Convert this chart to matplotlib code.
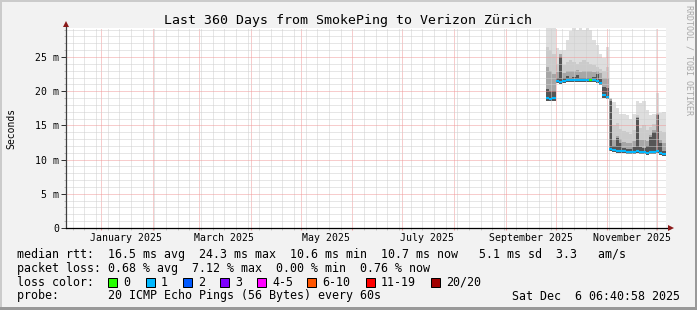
import numpy as np
import pandas as pd
import matplotlib
matplotlib.use('Agg')
from matplotlib import pyplot as plt
from matplotlib import dates as mdates
from matplotlib.patches import Rectangle
from matplotlib.ticker import MultipleLocator

W, H = 697, 310
MONO = 'DejaVu Sans Mono'

graph_start = pd.Timestamp('2024-12-11 00:00')
graph_end = pd.Timestamp('2025-12-06 06:40')

# 2-day bins, 25 Sep 2025 .. 6 Dec 2025 (values in ms)
bin_start = pd.date_range('2025-09-25', periods=36, freq='2D')

median_ms = [19.0, 18.9, 19.0, 21.5, 21.4, 21.5, 21.6, 21.6, 21.7, 21.7, 21.7, 21.7,
             21.7, 21.7, 21.6, 21.5, 21.2, 19.4, 19.2, 11.5, 11.4, 11.3, 11.2, 11.2,
             11.1, 11.1, 11.1, 11.2, 11.1, 11.1, 11.0, 11.1, 11.1, 11.2, 11.0, 10.8]
loss_class = [1, 1, 1, 1, 1, 1, 1, 1, 1, 1, 1, 1,
              1, 0, 1, 1, 1, 1, 1, 1, 1, 1, 1, 1,
              1, 1, 1, 1, 1, 1, 1, 1, 1, 1, 1, 1]
smoke_lo = [18.5, 18.5, 18.6, 21.2, 21.1, 21.2, 21.3, 21.3, 21.4, 21.4, 21.4, 21.4,
            21.4, 21.4, 21.3, 21.2, 20.9, 19.0, 18.9, 11.2, 11.1, 11.0, 10.9, 10.9,
            10.8, 10.8, 10.8, 10.9, 10.8, 10.8, 10.7, 10.8, 10.8, 10.9, 10.7, 10.5]
smoke_core = [20.3, 20.0, 20.0, 22.0, 25.0, 21.9, 22.2, 22.0, 22.1, 22.4, 22.0, 22.0,
              22.0, 22.0, 22.1, 22.5, 21.8, 20.6, 20.4, 18.5, 12.0, 13.2, 12.5, 11.7,
              11.6, 11.6, 11.8, 16.1, 11.8, 11.7, 12.0, 13.3, 14.0, 16.5, 12.4, 11.3]
smoke_dark = [23.5, 23.0, 22.5, 22.8, 25.5, 22.7, 23.0, 22.9, 23.0, 23.1, 22.8, 22.9,
              23.0, 22.9, 22.8, 22.9, 22.6, 22.0, 22.0, 18.8, 12.8, 13.5, 13.0, 12.6,
              12.5, 12.4, 12.7, 16.3, 12.8, 12.9, 12.7, 13.6, 14.3, 16.7, 12.9, 12.4]
smoke_mid = [26.5, 26.0, 25.5, 24.0, 25.5, 23.8, 24.2, 24.5, 24.3, 24.0, 24.2, 24.5,
             24.3, 24.0, 23.8, 23.6, 23.2, 23.0, 23.5, 19.0, 15.0, 15.3, 14.5, 14.2,
             14.0, 13.8, 14.3, 16.5, 14.6, 15.0, 14.4, 14.8, 15.2, 16.8, 14.2, 14.0]
smoke_hi = [31.0, 31.0, 31.0, 26.3, 26.0, 26.0, 27.5, 28.8, 29.5, 29.0, 29.5, 29.0,
            29.5, 29.0, 27.5, 26.8, 25.5, 24.8, 26.5, 18.6, 18.4, 17.5, 16.7, 16.6,
            16.5, 16.0, 16.6, 18.5, 18.3, 18.5, 17.3, 16.5, 16.6, 19.8, 16.8, 17.0]

month_labels = ['January 2025', 'March 2025', 'May 2025', 'July 2025',
                'September 2025', 'November 2025']
month_label_dates = ['2025-01-16', '2025-03-16', '2025-05-16', '2025-07-16',
                     '2025-09-16', '2025-11-16']
y_ticks = [0, 5, 10, 15, 20, 25]
y_tick_labels = ['0', '5 m', '10 m', '15 m', '20 m', '25 m']

loss_names = ['0', '1', '2', '3', '4-5', '6-10', '11-19', '20/20']
loss_colors = ['#26ff00', '#00b8ff', '#0059ff', '#7e00ff', '#ff00ff', '#ff5500', '#ff0000', '#a10000']
loss_box_x = [108, 146, 183, 220, 257, 307, 366, 431]

title = 'Last 360 Days from SmokePing to Verizon Zürich'
legend_rtt = 'median rtt:  16.5 ms avg  24.3 ms max  10.6 ms min  10.7 ms now   5.1 ms sd  3.3   am/s'
legend_loss = 'packet loss: 0.68 % avg  7.12 % max  0.00 % min  0.76 % now'
legend_probe = 'probe:       20 ICMP Echo Pings (56 Bytes) every 60s'
stamp = 'Sat Dec  6 06:40:58 2025'


def fx(x):
    return x / W


def fy(y):
    return 1 - y / H


def ext(v):
    # repeat last value so the final step reaches the right edge
    return np.append(np.asarray(v, dtype=float), v[-1])


fig = plt.figure(figsize=(W / 100, H / 100), dpi=100, facecolor='#f2f2f2')
ax = fig.add_axes((fx(66), fy(228), 600 / W, 200 / H))
ax.set_facecolor('white')

edges = list(bin_start) + [graph_end]
lo = ext(smoke_lo)
for top, col in [(smoke_hi, '#dedede'), (smoke_mid, '#cbcbcb'),
                 (smoke_dark, '#a6a6a6'), (smoke_core, '#555555')]:
    ax.fill_between(edges, lo, ext(top), step='post', color=col, lw=0, zorder=1)

# median drawn as short flat pieces, coloured by loss (no vertical joins)
ax.hlines(median_ms, edges[:-1], edges[1:], colors=[loss_colors[c] for c in loss_class],
          lw=1.5, zorder=3)

ax.set_xlim(graph_start, graph_end)
ax.set_ylim(0, 29.24)

ax.xaxis.set_major_locator(mdates.MonthLocator())
ax.xaxis.set_minor_locator(mdates.WeekdayLocator(byweekday=mdates.SU))
ax.yaxis.set_major_locator(MultipleLocator(5))
ax.yaxis.set_minor_locator(MultipleLocator(1))
ax.set_yticks(y_ticks, y_tick_labels)
ax.tick_params(axis='x', which='both', labelbottom=False)
ax.tick_params(axis='x', which='major', length=1.6, color='#ef9a9a')
ax.tick_params(axis='x', which='minor', length=1.6, color='#c0c0c0')
ax.tick_params(axis='y', which='major', length=3.6, width=0.72, color='#333333',
               pad=1.5, labelsize=7.15, labelfontfamily=MONO)
ax.tick_params(axis='y', which='minor', length=1.6, color='#b0b0b0')

ax.set_axisbelow(False)
ax.grid(which='major', color='#f09a9a', ls=(0, (1, 1)), lw=0.72, snap=True)
ax.grid(which='minor', color='#cfcfcf', ls=(0, (1, 1)), lw=0.72, snap=True)

for s in ax.spines.values():
    s.set_visible(False)
ax.plot([0, 0], [0, 1.015], transform=ax.transAxes, clip_on=False, color='#404040', lw=0.9, zorder=5)
ax.plot([0, 1.006], [0, 0], transform=ax.transAxes, clip_on=False, color='black', lw=0.9, zorder=5)
ax.plot([0], [(228 - 23.5) / 200], transform=ax.transAxes, clip_on=False, marker='^',
        ms=4.2, mew=0, color='#8b1a1a', zorder=6)
ax.plot([(670.5 - 66) / 600], [0], transform=ax.transAxes, clip_on=False, marker='>',
        ms=4.2, mew=0, color='#8b1a1a', zorder=6)

for d, lab in zip(month_label_dates, month_labels):
    ax.text(pd.Timestamp(d), (228 - 241) / 200, lab, transform=ax.get_xaxis_transform(),
            ha='center', va='baseline', fontsize=7.15, family=MONO)

fig.text(fx(347.5), fy(24), title, ha='center', va='baseline', fontsize=9.5, family=MONO)
fig.text(fx(11.5), fy(128), 'Seconds', rotation=90, ha='center', va='center',
         fontsize=7.0, family=MONO)
fig.text(fx(688.5), fy(5), 'RRDTOOL / TOBI OETIKER', rotation=270, ha='center', va='top',
         fontsize=6.0, family=MONO, color='#a8a8a8')

fig.text(fx(16.8), fy(258), legend_rtt, ha='left', va='baseline', fontsize=8.4, family=MONO)
fig.text(fx(16.8), fy(271.8), legend_loss, ha='left', va='baseline', fontsize=8.4, family=MONO)
fig.text(fx(16.8), fy(285.7), 'loss color:', ha='left', va='baseline', fontsize=8.4, family=MONO)
fig.text(fx(16.8), fy(299.5), legend_probe, ha='left', va='baseline', fontsize=8.4, family=MONO)
fig.text(fx(680.5), fy(299.5), stamp, ha='right', va='baseline', fontsize=8.4, family=MONO)

for bx, name, col in zip(loss_box_x, loss_names, loss_colors):
    fig.add_artist(Rectangle((fx(bx), fy(286.7)), 9 / W, 9 / H, transform=fig.transFigure,
                             facecolor=col, edgecolor='black', lw=0.72))
    fig.text(fx(bx + 15), fy(285.7), name, ha='left', va='baseline', fontsize=8.4, family=MONO)

# 3d frame round the image
fig.add_artist(Rectangle((0, fy(2)), 1, 2 / H, transform=fig.transFigure, color='#cbcbcb', lw=0))
fig.add_artist(Rectangle((0, 0), 2 / W, 1, transform=fig.transFigure, color='#cbcbcb', lw=0))
fig.add_artist(Rectangle((0, 0), 1, 3 / H, transform=fig.transFigure, color='#999999', lw=0))
fig.add_artist(Rectangle((fx(695), 0), 2 / W, 1, transform=fig.transFigure, color='#999999', lw=0))

fig.savefig('out.png', dpi=100, facecolor=fig.get_facecolor())
